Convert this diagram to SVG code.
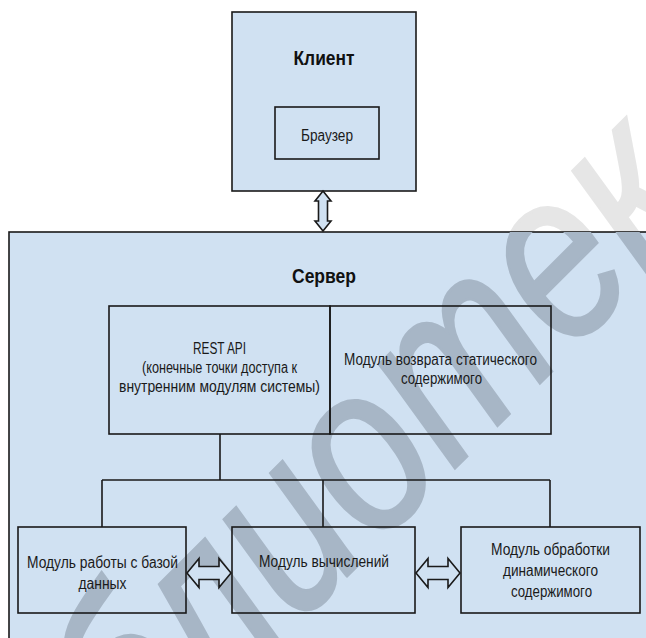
<svg xmlns="http://www.w3.org/2000/svg" xmlns:xlink="http://www.w3.org/1999/xlink" width="646" height="638" viewBox="0 0 646 638">
<style>
.box{fill:#d0e1f2;stroke:#1a1a1a;stroke-width:1.6}
.inner{fill:none;stroke:#1a1a1a;stroke-width:1.6}
.t{font-family:"Liberation Sans",Arial,sans-serif;font-size:16px;fill:#1a1a1a;text-anchor:middle}
.title{font-family:"Liberation Sans",Arial,sans-serif;font-size:20px;font-weight:bold;fill:#111;text-anchor:middle}
.conn{fill:none;stroke:#1a1a1a;stroke-width:1.6}
.dbl{fill:#d0e1f2;stroke:#1a1a1a;stroke-width:1.6;stroke-linejoin:miter}
.wm{font-family:"Liberation Sans",Arial,sans-serif;font-size:240px;font-style:italic;stroke-width:3}
</style>
<defs>
<clipPath id="inSrv"><rect x="9" y="232" width="700" height="500"/></clipPath>
<clipPath id="outSrv"><path d="M0,0H646V232H9V638H0Z"/></clipPath>
<text id="wmtext" class="wm" transform="translate(-24,947) rotate(-45) scale(0.82,1)" x="0" y="0">Библиотека</text>
</defs>
<rect width="646" height="638" fill="#fff"/>
<use xlink:href="#wmtext" fill="#e6e6e6" stroke="#e6e6e6" clip-path="url(#outSrv)"/>
<g id="server">
<rect class="box" x="9" y="232" width="700" height="500"/>
</g>
<use xlink:href="#wmtext" fill="#a7b6c6" stroke="#a7b6c6" clip-path="url(#inSrv)"/>
<text class="title" x="324" y="283" textLength="64" lengthAdjust="spacingAndGlyphs">Сервер</text>
<g id="client">
<rect class="box" x="232" y="12" width="184" height="179"/>
<text class="title" x="324" y="65" textLength="61" lengthAdjust="spacingAndGlyphs">Клиент</text>
</g>
<g id="browser">
<rect class="inner" x="275" y="107" width="104" height="52"/>
<text class="t" x="327" y="141" font-size="15" textLength="52" lengthAdjust="spacingAndGlyphs">Браузер</text>
</g>
<g id="rest">
<rect class="inner" x="109" y="306" width="221" height="128"/>
<text class="t" x="219.5" y="354" textLength="53" lengthAdjust="spacingAndGlyphs">REST API</text>
<text class="t" x="219.5" y="373" textLength="155" lengthAdjust="spacingAndGlyphs">(конечные точки доступа к</text>
<text class="t" x="219.5" y="392" textLength="201" lengthAdjust="spacingAndGlyphs">внутренним модулям системы)</text>
</g>
<g id="static">
<rect class="inner" x="330" y="306" width="221" height="128"/>
<text class="t" x="440.5" y="365" textLength="193" lengthAdjust="spacingAndGlyphs">Модуль возврата статического</text>
<text class="t" x="441.5" y="384" textLength="81" lengthAdjust="spacingAndGlyphs">содержимого</text>
</g>
<g id="db">
<rect class="inner" x="18" y="527" width="168" height="86"/>
<text class="t" x="102.5" y="568" textLength="151" lengthAdjust="spacingAndGlyphs">Модуль работы с базой</text>
<text class="t" x="102.5" y="589" textLength="48" lengthAdjust="spacingAndGlyphs">данных</text>
</g>
<g id="calc">
<rect class="inner" x="232" y="527" width="183" height="86"/>
<text class="t" x="324" y="567" textLength="130" lengthAdjust="spacingAndGlyphs">Модуль вычислений</text>
</g>
<g id="dynamic">
<rect class="inner" x="461" y="527" width="179" height="86"/>
<text class="t" x="550.5" y="555" textLength="119" lengthAdjust="spacingAndGlyphs">Модуль обработки</text>
<text class="t" x="550.5" y="576" textLength="95" lengthAdjust="spacingAndGlyphs">динамического</text>
<text class="t" x="551.5" y="597" textLength="81" lengthAdjust="spacingAndGlyphs">содержимого</text>
</g>
<g id="connectors">
<path class="conn" d="M220,434V480M102,480H550M102,480V527M323,480V527M550,480V527"/>
<path class="dbl" d="M323,191L331,201L327.5,201L327.5,221L331,221L323,231L315,221L318.5,221L318.5,201L315,201Z"/>
<path class="dbl" d="M187,573L199,558.5L199,566.5L219,566.5L219,558.5L231,573L219,587.5L219,579.5L199,579.5L199,587.5Z"/>
<path class="dbl" d="M416,573L428,558.5L428,566.5L448,566.5L448,558.5L460,573L448,587.5L448,579.5L428,579.5L428,587.5Z"/>
</g>
</svg>
